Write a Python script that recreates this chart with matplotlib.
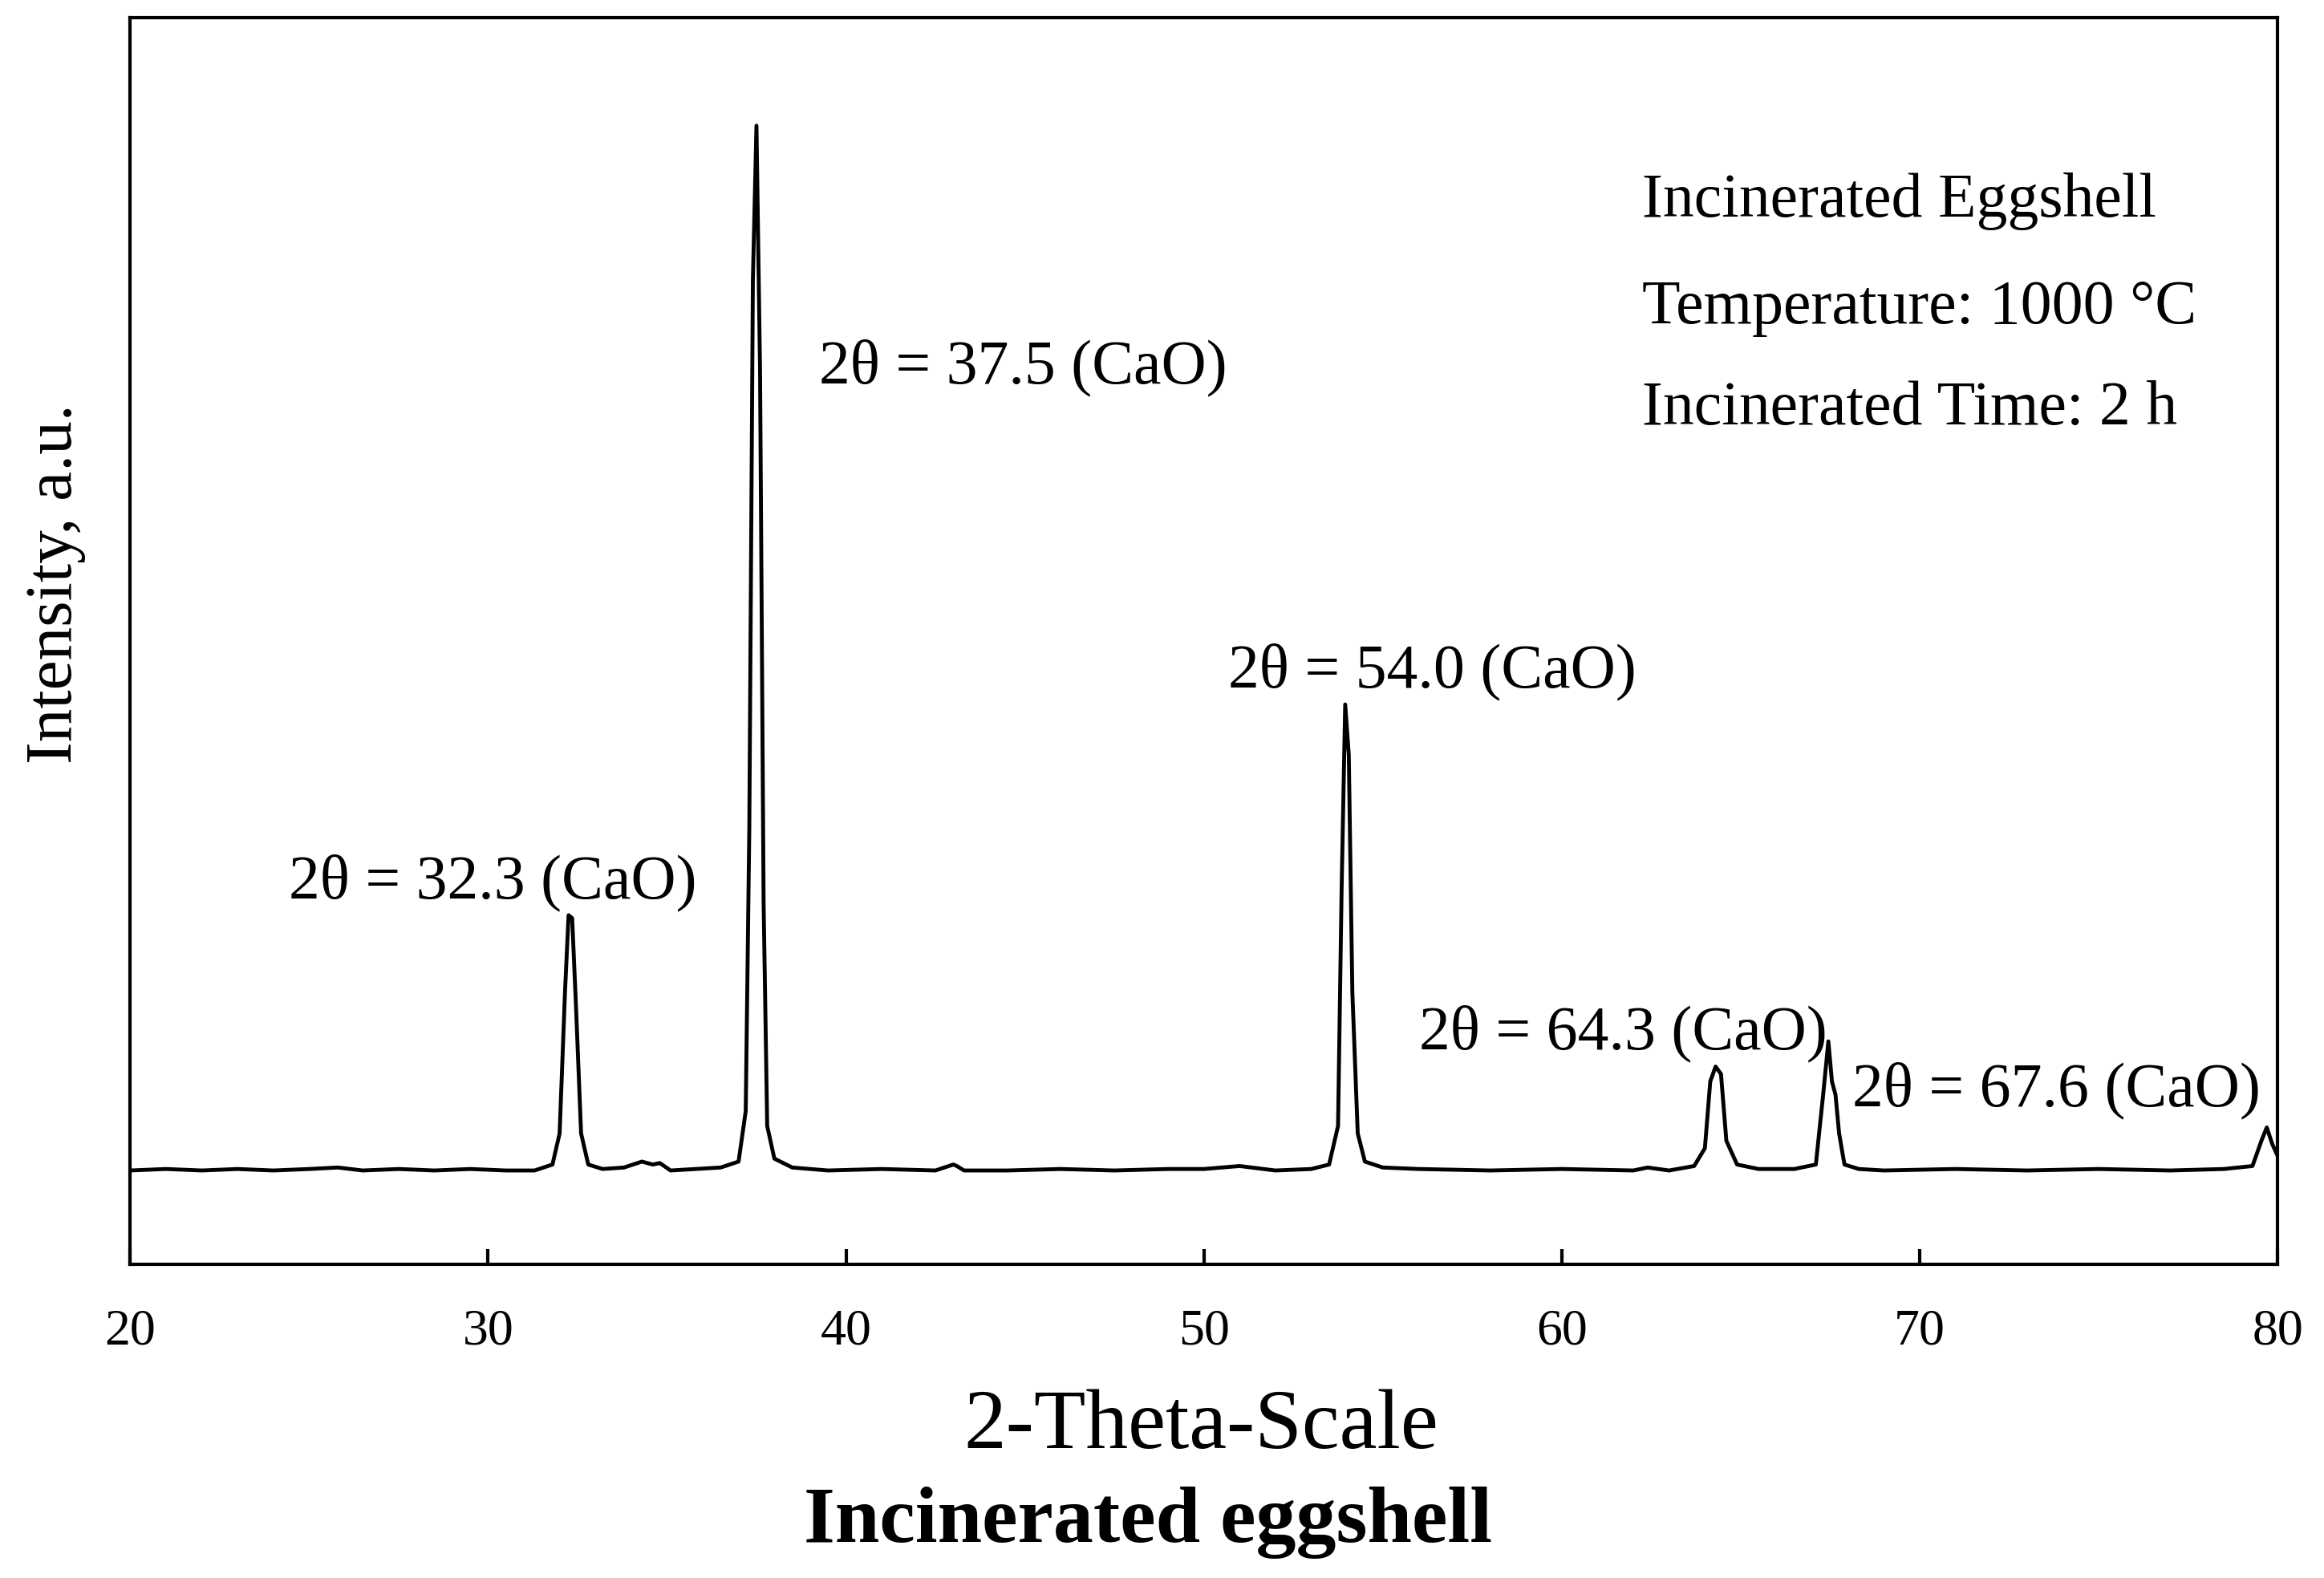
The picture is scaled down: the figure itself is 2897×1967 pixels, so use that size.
import matplotlib.pyplot as plt

plt.rcParams['font.family'] = ['Liberation Serif', 'DejaVu Serif']

# XRD pattern (2-theta, arbitrary intensity)
two_theta = [20.0, 21.0, 22.0, 23.0, 24.0, 25.0, 25.8, 26.5, 27.5, 28.5, 29.5, 30.5, 31.3,
             31.8, 32.0, 32.15, 32.25, 32.35, 32.45, 32.6, 32.8, 33.2, 33.8, 34.3, 34.6, 34.8,
             35.1, 35.8, 36.5, 37.0, 37.2, 37.3, 37.4, 37.5, 37.6, 37.7, 37.8, 38.0, 38.5,
             39.5, 41.0, 42.5, 43.0, 43.1, 43.3, 44.5, 46.0, 47.5, 49.0, 50.0, 51.0, 52.0,
             53.0, 53.5, 53.75, 53.85, 53.95, 54.05, 54.15, 54.3, 54.5, 55.0, 56.0, 58.0,
             60.0, 62.0, 62.4, 63.0, 63.7, 64.0, 64.15, 64.3, 64.45, 64.6, 64.9, 65.5, 66.5,
             67.1, 67.3, 67.45, 67.55, 67.65, 67.75, 67.9, 68.3, 69.0, 71.0, 73.0, 75.0, 77.0,
             78.5, 79.3, 79.55, 79.7, 79.85, 80.0]
intensity = [100, 101, 100, 101, 100, 101, 102, 100, 101, 100, 101, 100, 100,
             104, 125, 220, 272, 270, 215, 125, 104, 101, 102, 106, 104, 105,
             100, 101, 102, 106, 140, 330, 700, 804, 640, 280, 130, 108, 102,
             100, 101, 100, 104, 103, 100, 100, 101, 100, 101, 101, 103, 100,
             101, 104, 130, 290, 414, 380, 220, 125, 106, 102, 101, 100,
             101, 100, 102, 100, 103, 115, 160, 170, 165, 120, 104, 101, 101,
             104, 150, 187, 160, 151, 125, 104, 101, 100, 101, 100, 101, 100,
             101, 103, 120, 129, 118, 110]

ticks = [20, 30, 40, 50, 60, 70, 80]

peak_labels = ['2\u03b8 = 32.3 (CaO)', '2\u03b8 = 37.5 (CaO)', '2\u03b8 = 54.0 (CaO)',
               '2\u03b8 = 64.3 (CaO)', '2\u03b8 = 67.6 (CaO)']
label_x = [24.43, 39.26, 50.68, 56.02, 68.11]
label_y = [294, 641, 436, 192, 154]

info_lines = ['Incinerated Eggshell', 'Temperature: 1000 \u00b0C', 'Incinerated Time: 2 h']
info_y = [753, 681, 613]

fig = plt.figure(figsize=(28.97, 19.67), dpi=100)
ax = fig.add_axes([0.056, 0.199, 0.924, 0.790])

ax.plot(two_theta, intensity, color='black', linewidth=3.5)

ax.set_xlim(20, 80)
ax.set_ylim(37, 877)
ax.set_xticks(ticks)
ax.set_yticks([])
ax.tick_params(axis='x', direction='in', length=14, width=3, labelsize=46, pad=40)
for sp in ax.spines.values():
    sp.set_linewidth(3)

for txt, x, y in zip(peak_labels, label_x, label_y):
    ax.text(x, y, txt, fontsize=56, va='center', ha='left')

for txt, y in zip(info_lines, info_y):
    ax.text(62.24, y, txt, fontsize=56, va='center', ha='left')

fig.text(0.517, 0.095, '2-Theta-Scale', fontsize=76, ha='center', va='center')
fig.text(0.494, 0.035, 'Incinerated eggshell', fontsize=72, fontweight='bold',
         ha='center', va='center')
fig.text(0.024, 0.63, 'Intensity, a.u.', fontsize=60, rotation=90, ha='center', va='center')

fig.savefig('out.png', dpi=100)
